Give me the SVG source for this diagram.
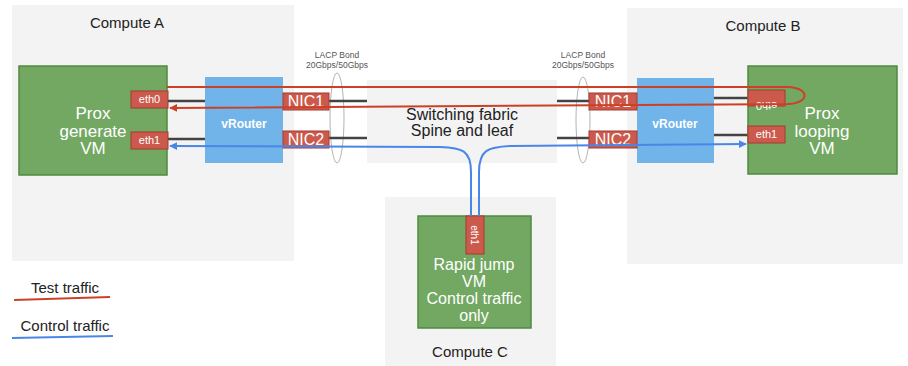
<svg xmlns="http://www.w3.org/2000/svg" width="908" height="366" viewBox="0 0 908 366">
<defs>
<style>
text{font-family:"Liberation Sans",Arial,sans-serif}
.host{fill:#f3f3f3}
.vm{fill:#72a862;stroke:#4f8a3f;stroke-width:1.5}
.port{fill:#cc5a4c;stroke:#a63a2e;stroke-width:1}
.vr{fill:#70b4ea}
.wire{stroke:#434343;stroke-width:2.5}
.bond{fill:none;stroke:#a0a0a0;stroke-width:0.8}
.lbl{fill:#222;font-size:15px;text-anchor:middle}
.vmt{fill:#fff;font-size:17px;text-anchor:middle}
.pt{fill:#fff;font-size:11px;text-anchor:middle}
.nic{fill:#fff;font-size:16px;text-anchor:middle}
.lacp{fill:#555;font-size:8.5px;text-anchor:middle}
.red{fill:none;stroke:#cc4125;stroke-width:2}
.blue{fill:none;stroke:#4a86e8;stroke-width:2}
</style>
<marker id="ar" viewBox="0 0 10 10" refX="9" refY="5" markerWidth="8" markerHeight="8" markerUnits="userSpaceOnUse" orient="auto"><path d="M0,0 L10,5 L0,10 z" fill="#cc4125"/></marker>
<marker id="ab" viewBox="0 0 10 10" refX="9" refY="5" markerWidth="8" markerHeight="8" markerUnits="userSpaceOnUse" orient="auto"><path d="M0,0 L10,5 L0,10 z" fill="#4a86e8"/></marker>
</defs>
<rect width="908" height="366" fill="#fff"/>

<g id="computeA">
<rect class="host" x="12" y="5" width="282" height="256"/>
<text class="lbl" x="127" y="28">Compute A</text>
</g>
<g id="computeB">
<rect class="host" x="627" y="8" width="276" height="256"/>
<text class="lbl" x="763" y="31">Compute B</text>
</g>
<g id="computeC">
<rect class="host" x="385" y="197" width="171" height="169"/>
<text class="lbl" x="470" y="357">Compute C</text>
</g>
<g id="fabric">
<rect class="host" x="367" y="80" width="190" height="83"/>
<text x="462" y="120" style="fill:#222;font-size:16px;text-anchor:middle">Switching fabric</text>
<text x="462" y="136" style="fill:#222;font-size:16px;text-anchor:middle">Spine and leaf</text>
</g>

<g id="bondA">
<ellipse class="bond" cx="337" cy="118" rx="7" ry="45"/>
<text class="lacp" x="337" y="58">LACP Bond</text>
<text class="lacp" x="337" y="68">20Gbps/50Gbps</text>
</g>
<g id="bondB">
<ellipse class="bond" cx="583" cy="120" rx="7" ry="43"/>
<text class="lacp" x="583" y="58">LACP Bond</text>
<text class="lacp" x="583" y="68">20Gbps/50Gbps</text>
</g>

<g id="wires">
<line class="wire" x1="168" y1="101" x2="205" y2="101"/>
<line class="wire" x1="168" y1="139" x2="205" y2="139"/>
<line class="wire" x1="329" y1="101" x2="367" y2="101"/>
<line class="wire" x1="329" y1="138" x2="367" y2="138"/>
<line class="wire" x1="557" y1="101" x2="590" y2="101"/>
<line class="wire" x1="557" y1="138" x2="590" y2="138"/>
<line class="wire" x1="714" y1="98" x2="748" y2="98"/>
<line class="wire" x1="714" y1="135" x2="748" y2="135"/>
</g>

<g id="vmA">
<rect class="vm" x="19" y="66" width="148" height="109"/>
<text class="vmt" x="93" y="119">Prox</text>
<text class="vmt" x="93" y="136.5">generate</text>
<text class="vmt" x="93" y="154">VM</text>
</g>
<g id="ethA0"><rect class="port" x="131" y="91" width="37" height="17"/><text class="pt" x="149.5" y="103">eth0</text></g>
<g id="ethA1"><rect class="port" x="131" y="132" width="37" height="17"/><text class="pt" x="149.5" y="144">eth1</text></g>
<g id="vrouterA">
<rect class="vr" x="205" y="77" width="78" height="86"/>
<text x="244" y="128" style="fill:#fff;font-size:12px;font-weight:bold;text-anchor:middle">vRouter</text>
</g>
<g id="nicA1"><rect class="port" x="283" y="93" width="46" height="17"/><text class="nic" x="306" y="107">NIC1</text></g>
<g id="nicA2"><rect class="port" x="283" y="131" width="46" height="17"/><text class="nic" x="306" y="145">NIC2</text></g>

<g id="vmB">
<rect class="vm" x="748" y="66" width="149" height="108"/>
<text class="vmt" x="822" y="119">Prox</text>
<text class="vmt" x="822" y="136.5">looping</text>
<text class="vmt" x="822" y="154">VM</text>
</g>
<g id="ethB0"><rect class="port" x="748" y="90" width="37" height="16"/><text class="pt" x="766.5" y="94" transform="rotate(180 766.5 98)">eth0</text></g>
<g id="ethB1"><rect class="port" x="748" y="126" width="37" height="17"/><text class="pt" x="766.5" y="138">eth1</text></g>
<g id="vrouterB">
<rect class="vr" x="637" y="78" width="77" height="85"/>
<text x="675" y="128" style="fill:#fff;font-size:12px;font-weight:bold;text-anchor:middle">vRouter</text>
</g>
<g id="nicB1"><rect class="port" x="589" y="93" width="48" height="17"/><text class="nic" x="613" y="107">NIC1</text></g>
<g id="nicB2"><rect class="port" x="589" y="131" width="48" height="17"/><text class="nic" x="613" y="145">NIC2</text></g>

<g id="vmC">
<rect class="vm" x="418" y="216" width="113" height="112"/>
<text class="vmt" style="font-size:16px" x="474" y="270">Rapid jump</text>
<text class="vmt" style="font-size:16px" x="474" y="287">VM</text>
<text class="vmt" style="font-size:16px" x="474" y="304">Control traffic</text>
<text class="vmt" style="font-size:16px" x="474" y="321">only</text>
</g>
<g id="ethC1"><rect class="port" x="466" y="216" width="18" height="38"/><text class="pt" style="font-size:10px" x="475" y="239" transform="rotate(90 475 235)">eth1</text></g>

<g id="connectors">
<path class="red" marker-end="url(#ar)" d="M167 87 L788 87 C810 88 810 103 788 104 L170 108"/>
<path class="blue" marker-end="url(#ab)" d="M471 216 L471 172 C471 150 462 148 440 147 L170 146"/>
<path class="blue" marker-end="url(#ab)" d="M479 216 L479 172 C479 150 488 147 510 146 L746 144"/>
</g>

<g id="legend">
<text class="lbl" x="65" y="293">Test traffic</text>
<path d="M14 300 L110 297" stroke="#cc4125" stroke-width="2"/>
<text class="lbl" x="65" y="331">Control traffic</text>
<path d="M12 338 L113 336" stroke="#4a86e8" stroke-width="2"/>
</g>
</svg>
